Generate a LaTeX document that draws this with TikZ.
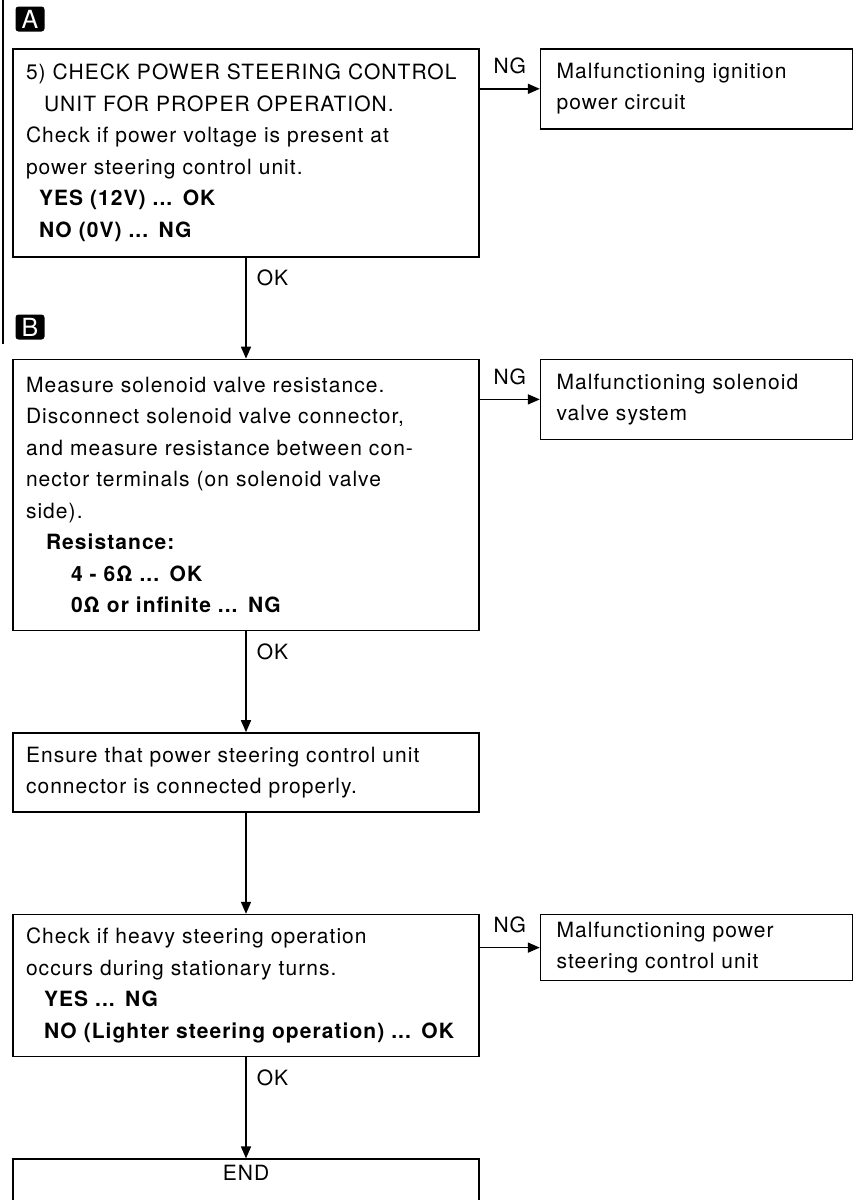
\documentclass[tikz,border=0pt]{standalone}
\usepackage{fontspec}
\setmainfont{TeX Gyre Heros}[LetterSpace=5]
\usetikzlibrary{arrows.meta, positioning}

\begin{document}
\begin{tikzpicture}[
  font=\fontsize{10.5pt}{15.75pt}\selectfont, node distance=50.5pt and 30pt,
  chk/.style={draw, line width=0.8pt, align=left, text width=220pt,
              inner xsep=6.5pt, inner ysep=0pt},
  res/.style={draw, line width=0.8pt, align=left, text width=140pt,
              inner xsep=8pt, inner ysep=0pt, minimum height=40pt},
  arr/.style={-{Triangle[length=6pt,width=5pt]}, line width=0.8pt},
  tag/.style={fill=black, text=white, rounded corners=1.5pt, inner sep=0pt,
              minimum width=14.5pt, minimum height=12.5pt,
              font=\fontsize{12.5pt}{12.5pt}\selectfont},
  lbl/.style={inner sep=2pt},
]
\path[use as bounding box, clip] (0,0) rectangle (427pt,-600pt);

% margin line of the page
\draw[line width=0.8pt] (1.5pt,0) -- (1.5pt,-172pt);

\node[tag] (mkA) at (15pt,-9.5pt) {A};
\node[tag] (mkB) at (15pt,-163.5pt) {B};

% main chain
\node[chk, anchor=north, minimum height=104pt] (pscu) at (123pt,-24pt)
  {5) CHECK POWER STEERING CONTROL\\
   \hspace*{9pt}UNIT FOR PROPER OPERATION.\\
   Check if power voltage is present at\\
   power steering control unit.\\
   \hspace*{6.5pt}\textbf{YES (12V) ... OK}\\
   \hspace*{6.5pt}\textbf{NO (0V) ... NG}};
\node[chk, below=of pscu, minimum height=135.5pt] (sol)
  {Measure solenoid valve resistance.\\
   Disconnect solenoid valve connector,\\
   and measure resistance between con-\\
   nector terminals (on solenoid valve\\
   side).\\
   \hspace*{10pt}\textbf{Resistance:}\\
   \hspace*{22.5pt}\textbf{4 - 6Ω ... OK}\\
   \hspace*{22.5pt}\textbf{0Ω or infinite ... NG}};
\node[chk, below=of sol, minimum height=39.5pt] (conn)
  {Ensure that power steering control unit\\
   connector is connected properly.};
\node[chk, below=of conn, minimum height=71pt] (heavy)
  {Check if heavy steering operation\\
   occurs during stationary turns.\\
   \hspace*{9pt}\textbf{YES ... NG}\\
   \hspace*{9pt}\textbf{NO (Lighter steering operation) ... OK}};
\node[chk, below=of heavy, align=center, inner ysep=3pt,
      text height=7.5pt, text depth=22pt] (fin) {END};

% NG results
\node[res, right=of pscu.north east, anchor=north west] (ign)
  {Malfunctioning ignition\\power circuit};
\node[res, right=of sol.north east, anchor=north west] (solv)
  {Malfunctioning solenoid\\valve system};
\node[res, right=of heavy.north east, anchor=north west, minimum height=33pt] (unit)
  {Malfunctioning power\\steering control unit};

\draw[arr] (pscu.south) -- node[lbl, pos=0.2, right=3pt]{OK} (sol.north);
\draw[arr] (sol.south) -- node[lbl, pos=0.2, right=3pt]{OK} (conn.north);
\draw[arr] (conn.south) -- (heavy.north);
\draw[arr] (heavy.south) -- node[lbl, pos=0.2, right=3pt]{OK} (fin.north);

\draw[arr] (pscu.east |- ign.west) -- node[lbl, above=5pt]{NG} (ign.west);
\draw[arr] (sol.east |- solv.west) -- node[lbl, above=5pt]{NG} (solv.west);
\draw[arr] (heavy.east |- unit.west) -- node[lbl, above=5pt]{NG} (unit.west);
\end{tikzpicture}
\end{document}
